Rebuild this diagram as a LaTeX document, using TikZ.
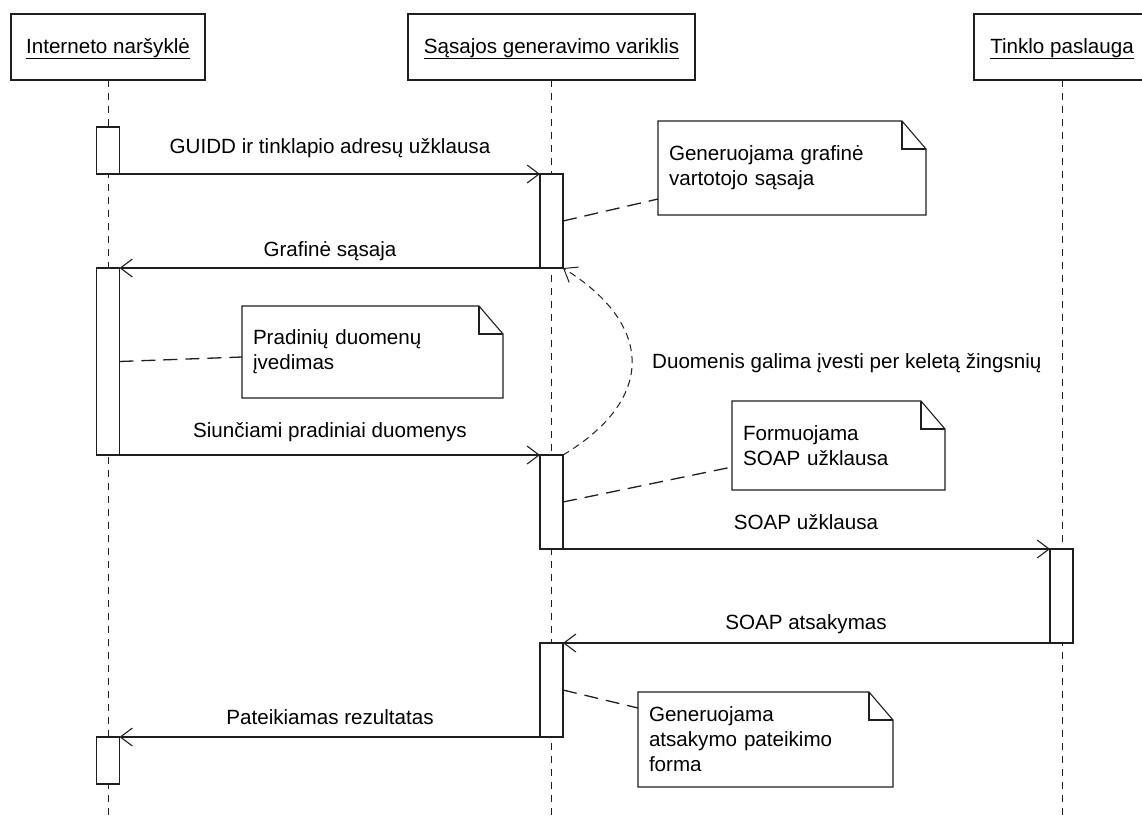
\documentclass[tikz,border=0pt]{standalone}
\usepackage{fontspec}
\setmainfont{Liberation Sans}
\usetikzlibrary{arrows.meta,calc}

% folded-corner note outline around a text node
\newcommand\notebody[1]{%
  \draw[base] (#1.north west) -- ([xshift=-24pt]#1.north east)
    -- ([yshift=-28pt]#1.north east) -- (#1.south east) -- (#1.south west) -- cycle;
  \draw[base] ([xshift=-24pt]#1.north east) |- ([yshift=-28pt]#1.north east);}

\begin{document}
\begin{tikzpicture}[x=1pt,y=-1pt,
  every node/.style={font=\fontsize{20.6pt}{25pt}\selectfont},
  base/.style={line width=1.1pt, draw=black!88},
  head/.style={base, rectangle, minimum height=66pt, inner sep=0pt, outer sep=0pt,
    text height=14pt, text depth=2pt},
  act/.style={base, fill=white, rectangle, minimum width=23pt, inner sep=0pt, outer sep=0pt},
  life/.style={line width=1pt, draw=black!88, dash pattern=on 7pt off 6pt},
  msg/.style={base, -{Straight Barb[length=12pt,width=18pt]}},
  msglabel/.style={anchor=base, inner sep=0pt},
  notetext/.style={rectangle, inner xsep=11pt, inner ysep=0pt, outer sep=0pt,
    align=left, anchor=north west},
  notelink/.style={line width=1.3pt, draw=black!88, dash pattern=on 14pt off 8pt},
  loopback/.style={line width=1pt, draw=black!88, dash pattern=on 7pt off 5pt,
    -{Straight Barb[length=12pt,width=18pt]}},
]
\clip (0,0) rectangle (1142,819);

% lifeline heads
\node[head, minimum width=194pt] (h1) at (108,47) {\underline{Interneto naršyklė}};
\node[head, minimum width=287pt] (h2) at (551.5,47) {\underline{Sąsajos generavimo variklis}};
\node[head, minimum width=176pt] (h3) at (1062,47) {\underline{Tinklo paslauga}};

% lifeline ends
\coordinate (e1) at (108,825);
\coordinate (e2) at (551.5,825);
\coordinate (e3) at (1062,825);

\draw[life] (h1.south) -- (e1);
\draw[life] (h2.south) -- (e2);
\draw[life] (h3.south) -- (e3);

% activation bars
\node[act, minimum height=47pt]  (a1) at (108,150.5) {};
\node[act, minimum height=94pt]  (b1) at (551.5,221) {};
\node[act, minimum height=187pt] (a2) at (108,361.5) {};
\node[act, minimum height=94pt]  (b2) at (551.5,502) {};
\node[act, minimum height=94pt]  (c1) at (1061.5,596) {};
\node[act, minimum height=94pt]  (b3) at (551.5,690) {};
\node[act, minimum height=47pt]  (a3) at (108,760.5) {};

% messages
\draw[msg] (a1.south east) -- (b1.north west);
\draw[msg] (b1.south west) -- (a2.north east);
\draw[msg] (a2.south east) -- (b2.north west);
\draw[msg] (b2.south east) -- (c1.north west);
\draw[msg] (c1.south west) -- (b3.north east);
\draw[msg] (b3.south west) -- (a3.north east);

\node[msglabel] (m1) at (330,153) {GUIDD ir tinklapio adresų užklausa};
\node[msglabel] (m2) at (330,256) {Grafinė sąsaja};
\node[msglabel] (m3) at (330,437) {Siunčiami pradiniai duomenys};
\node[msglabel] (m4) at (806,529) {SOAP užklausa};
\node[msglabel] (m5) at (806,629) {SOAP atsakymas};
\node[msglabel] (m6) at (330,724) {Pateikiamas rezultatas};

% repeated data entry
\draw[loopback] (b2.north east) .. controls (655,400) and (655,325) .. (b1.south east);
\node[msglabel, anchor=base west] (loop) at (652,368) {Duomenis galima įvesti per keletą žingsnių};

% notes
\node[notetext, text width=246pt, minimum height=94pt] (n1) at (658,121)
  {Generuojama grafinė\\vartotojo sąsaja};
\node[notetext, text width=239pt, minimum height=92pt] (n2) at (242,306)
  {Pradinių duomenų\\įvedimas};
\node[notetext, text width=191pt, minimum height=89pt] (n3) at (732,401)
  {Formuojama\\SOAP užklausa};
\node[notetext, text width=233pt, minimum height=95pt] (n4) at (638,692)
  {Generuojama\\atsakymo pateikimo\\forma};
\notebody{n1}
\notebody{n2}
\notebody{n3}
\notebody{n4}

\draw[notelink] (b1.east) -- ([yshift=-31pt]n1.west);
\draw[notelink] (a2.east) -- ([yshift=-5pt]n2.west);
\draw[notelink] (b2.east) -- ([yshift=-21.5pt]n3.west);
\draw[notelink] (b3.east) -- ([yshift=31.5pt]n4.west);
\end{tikzpicture}
\end{document}
